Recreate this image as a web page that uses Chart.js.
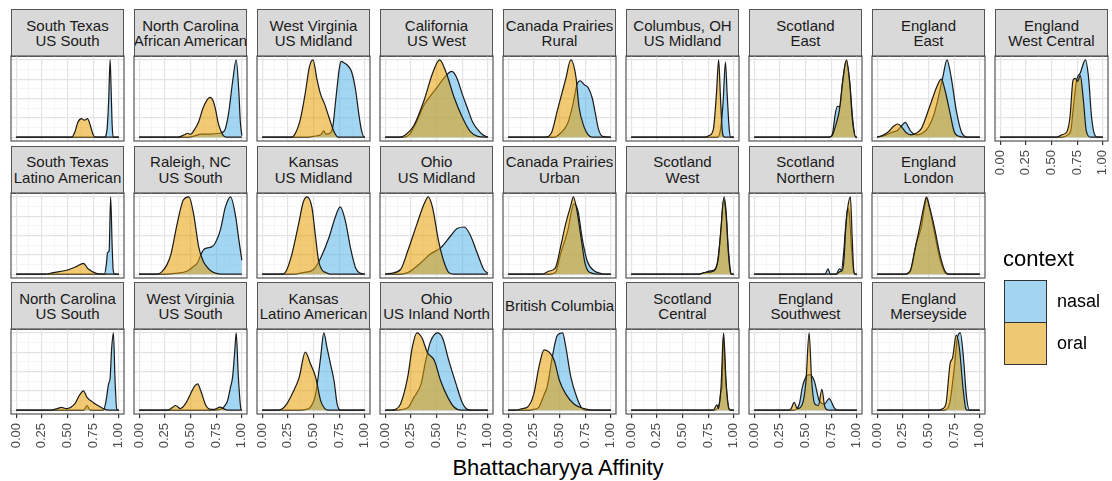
<!DOCTYPE html>
<html>
<head>
<meta charset="utf-8">
<script src="https://cdn.jsdelivr.net/npm/chart.js@4"></script>
<style>
body { margin:0; background:#fff; font-family:"Liberation Sans", Arial, sans-serif; }
#wrap { position:relative; width:1112px; height:481px; overflow:hidden; }
.strip { position:absolute; box-sizing:border-box; background:#d9d9d9; border:1px solid #555;
  display:flex; align-items:center; justify-content:center; overflow:hidden; }
.strip span { white-space:pre; text-align:center; font-size:15px; line-height:15.5px; color:#1a1a1a; }
canvas { position:absolute; }
.txt { position:absolute; white-space:nowrap; color:#000; }
.key { position:absolute; box-sizing:border-box; border:1px solid #333; }
</style>
</head>
<body>
<div id="wrap"></div>
<script>
// facets in column order (3 per column)
const facetNames = [
  "South Texas\nUS South", "South Texas\nLatino American", "North Carolina\nUS South",
  "North Carolina\nAfrican American", "Raleigh, NC\nUS South", "West Virginia\nUS South",
  "West Virginia\nUS Midland", "Kansas\nUS Midland", "Kansas\nLatino American",
  "California\nUS West", "Ohio\nUS Midland", "Ohio\nUS Inland North",
  "Canada Prairies\nRural", "Canada Prairies\nUrban", "British Columbia",
  "Columbus, OH\nUS Midland", "Scotland\nWest", "Scotland\nCentral",
  "Scotland\nEast", "Scotland\nNorthern", "England\nSouthwest",
  "England\nEast", "England\nLondon", "England\nMerseyside",
  "England\nWest Central"
];
const contextLevels = ["nasal", "oral"];
const xTickValues = [0, 0.25, 0.5, 0.75, 1];
const xTickLabels = ["0.00", "0.25", "0.50", "0.75", "1.00"];

// density (relative height), [affinity, density]
const nasal = [
  [[0,0],[0.86,0],[0.885,0.1],[0.9,0.45],[0.915,1.0],[0.925,0.6],[0.935,0.15],[0.945,0],[1,0]],
  [[0,0],[0.86,0],[0.88,0.15],[0.89,0.28],[0.905,0.3],[0.92,1.0],[0.935,0.35],[0.945,0.05],[0.96,0],[1,0]],
  [[0,0],[0.66,0],[0.69,0.06],[0.72,0],[0.85,0],[0.875,0.12],[0.9,0.34],[0.915,0.42],[0.93,0.8],[0.947,1.0],[0.963,0.38],[0.98,0.01],[1,0]],
  [[0,0],[0.48,0],[0.55,0.02],[0.6,0.04],[0.7,0.04],[0.78,0.05],[0.83,0.08],[0.87,0.3],[0.91,0.72],[0.945,1.0],[0.97,0.6],[0.985,0.2],[1,0.02]],
  [[0,0],[0.25,0],[0.35,0.01],[0.47,0.04],[0.53,0.1],[0.57,0.15],[0.6,0.25],[0.63,0.32],[0.665,0.34],[0.7,0.35],[0.73,0.38],[0.79,0.57],[0.84,0.87],[0.89,1.0],[0.94,0.74],[0.97,0.45],[1,0.18]],
  [[0,0],[0.72,0],[0.79,0.01],[0.83,0.05],[0.86,0.12],[0.89,0.3],[0.91,0.43],[0.93,0.75],[0.945,1.0],[0.965,0.45],[0.99,0.02],[1,0]],
  [[0,0],[0.45,0],[0.52,0.015],[0.57,0.03],[0.6,0.08],[0.62,0.04],[0.66,0.05],[0.69,0.15],[0.71,0.4],[0.73,0.65],[0.75,0.88],[0.77,0.98],[0.8,0.96],[0.83,0.93],[0.87,0.85],[0.91,0.61],[0.94,0.31],[0.97,0.07],[0.995,0],[1,0]],
  [[0,0],[0.3,0],[0.4,0.02],[0.5,0.06],[0.57,0.21],[0.65,0.47],[0.71,0.73],[0.76,0.87],[0.81,0.69],[0.86,0.34],[0.91,0.08],[0.96,0.01],[1,0]],
  [[0,0],[0.36,0],[0.43,0.01],[0.47,0.04],[0.52,0.2],[0.57,0.69],[0.6,1.0],[0.63,0.82],[0.665,0.6],[0.7,0.38],[0.73,0.08],[0.76,0],[1,0]],
  [[0,0],[0.18,0],[0.24,0.04],[0.3,0.18],[0.38,0.42],[0.45,0.55],[0.51,0.65],[0.57,0.76],[0.65,0.85],[0.7,0.76],[0.75,0.56],[0.8,0.38],[0.85,0.2],[0.9,0.1],[0.95,0.03],[1,0]],
  [[0,0],[0.1,0],[0.22,0.02],[0.35,0.15],[0.44,0.26],[0.54,0.34],[0.64,0.5],[0.7,0.59],[0.77,0.61],[0.83,0.5],[0.9,0.26],[0.96,0.06],[1,0.01]],
  [[0,0],[0.1,0],[0.22,0.03],[0.28,0.165],[0.35,0.34],[0.395,0.64],[0.44,0.88],[0.51,1.0],[0.56,0.93],[0.62,0.64],[0.69,0.34],[0.75,0.1],[0.8,0.01],[0.84,0],[1,0]],
  [[0,0],[0.45,0],[0.5,0.04],[0.58,0.18],[0.63,0.42],[0.67,0.68],[0.7,0.73],[0.74,0.68],[0.78,0.64],[0.82,0.5],[0.85,0.3],[0.88,0.1],[0.92,0.01],[1,0]],
  [[0,0],[0.4,0],[0.46,0.02],[0.51,0.26],[0.58,0.56],[0.64,0.91],[0.68,0.82],[0.72,0.47],[0.77,0.17],[0.84,0.04],[0.9,0.01],[0.93,0],[1,0]],
  [[0,0],[0.2,0],[0.25,0.01],[0.3,0.04],[0.33,0.13],[0.35,0.2],[0.38,0.3],[0.43,0.69],[0.48,0.97],[0.53,1.0],[0.56,0.83],[0.61,0.43],[0.67,0.16],[0.72,0.02],[0.76,0],[1,0]],
  [[0,0],[0.84,0],[0.87,0.1],[0.895,0.45],[0.918,0.97],[0.935,0.55],[0.955,0.1],[0.97,0],[1,0]],
  [[0,0],[0.66,0],[0.72,0.02],[0.76,0.04],[0.8,0.05],[0.84,0.15],[0.87,0.5],[0.905,1.0],[0.925,0.8],[0.945,0.35],[0.97,0.02],[0.98,0],[1,0]],
  [[0,0],[0.8,0],[0.84,0.02],[0.86,0.1],[0.875,0.25],[0.885,0.3],[0.897,0.95],[0.92,0.4],[0.95,0.02],[0.97,0],[1,0]],
  [[0,0],[0.73,0],[0.76,0.03],[0.79,0.3],[0.81,0.4],[0.835,0.39],[0.86,0.7],[0.895,0.98],[0.93,0.72],[0.96,0.22],[0.99,0],[1,0]],
  [[0,0],[0.69,0],[0.72,0.07],[0.74,0],[0.8,0],[0.83,0.07],[0.85,0.05],[0.87,0.25],[0.89,0.6],[0.91,0.85],[0.925,0.8],[0.95,0.3],[0.97,0.02],[0.98,0],[1,0]],
  [[0,0],[0.38,0],[0.44,0.08],[0.47,0.3],[0.505,0.43],[0.54,0.46],[0.585,0.38],[0.635,0.12],[0.685,0.08],[0.73,0.15],[0.78,0.03],[0.81,0],[1,0]],
  [[0,0],[0.07,0.02],[0.14,0.06],[0.2,0.09],[0.24,0.15],[0.275,0.19],[0.3,0.14],[0.33,0.07],[0.38,0.03],[0.44,0.05],[0.5,0.13],[0.55,0.28],[0.59,0.48],[0.64,0.78],[0.68,1.0],[0.72,0.78],[0.77,0.35],[0.82,0.07],[0.88,0],[1,0]],
  [[0,0],[0.28,0],[0.33,0.06],[0.38,0.39],[0.43,0.61],[0.457,0.83],[0.48,0.98],[0.51,0.85],[0.56,0.52],[0.61,0.2],[0.66,0.02],[0.69,0],[1,0]],
  [[0,0],[0.65,0],[0.7,0.06],[0.755,0.6],[0.78,0.93],[0.81,1.0],[0.84,0.68],[0.87,0.17],[0.9,0],[1,0]],
  [[0,0],[0.6,0],[0.66,0.03],[0.69,0.1],[0.71,0.35],[0.745,0.74],[0.78,0.83],[0.83,1.0],[0.86,0.78],[0.89,0.26],[0.92,0.03],[0.95,0],[1,0]]
];
const oral = [
  [[0,0],[0.54,0],[0.57,0.06],[0.6,0.19],[0.635,0.24],[0.665,0.22],[0.695,0.24],[0.72,0.16],[0.75,0.03],[0.77,0],[1,0]],
  [[0,0],[0.28,0],[0.36,0.02],[0.49,0.05],[0.59,0.1],[0.655,0.14],[0.7,0.07],[0.78,0.01],[0.85,0],[1,0]],
  [[0,0],[0.34,0],[0.4,0.02],[0.44,0.035],[0.49,0.02],[0.57,0.08],[0.62,0.2],[0.655,0.25],[0.69,0.165],[0.75,0.1],[0.82,0.04],[0.865,0.01],[0.9,0],[1,0]],
  [[0,0],[0.38,0],[0.44,0.03],[0.47,0.05],[0.5,0.035],[0.53,0.08],[0.58,0.2],[0.62,0.37],[0.66,0.48],[0.69,0.515],[0.72,0.47],[0.745,0.35],[0.77,0.18],[0.79,0.1],[0.82,0.02],[0.85,0],[1,0]],
  [[0,0],[0.18,0],[0.22,0.03],[0.27,0.12],[0.31,0.26],[0.37,0.65],[0.43,0.96],[0.485,1.0],[0.53,0.78],[0.58,0.35],[0.62,0.18],[0.65,0.11],[0.7,0.04],[0.75,0.01],[0.8,0],[1,0]],
  [[0,0],[0.28,0],[0.32,0.03],[0.355,0.06],[0.4,0.02],[0.45,0.08],[0.5,0.21],[0.54,0.31],[0.57,0.34],[0.6,0.25],[0.65,0.06],[0.7,0.01],[0.73,0.01],[0.79,0.04],[0.82,0.02],[0.86,0],[1,0]],
  [[0,0],[0.28,0],[0.31,0.02],[0.37,0.22],[0.42,0.57],[0.46,0.91],[0.495,1.0],[0.535,0.74],[0.57,0.55],[0.605,0.44],[0.65,0.26],[0.7,0.07],[0.74,0],[1,0]],
  [[0,0],[0.2,0],[0.23,0.03],[0.29,0.26],[0.355,0.65],[0.4,0.93],[0.437,1.0],[0.485,0.86],[0.52,0.48],[0.55,0.17],[0.58,0.06],[0.62,0.02],[0.66,0],[1,0]],
  [[0,0],[0.16,0],[0.2,0.02],[0.24,0.08],[0.3,0.23],[0.36,0.42],[0.42,0.75],[0.47,0.6],[0.52,0.43],[0.57,0.12],[0.61,0.02],[0.64,0],[1,0]],
  [[0,0],[0.14,0],[0.2,0.03],[0.28,0.15],[0.38,0.48],[0.46,0.82],[0.53,1.0],[0.59,0.85],[0.67,0.52],[0.75,0.26],[0.83,0.07],[0.9,0.01],[1,0]],
  [[0,0],[0.05,0.01],[0.15,0.06],[0.22,0.3],[0.31,0.65],[0.38,0.91],[0.42,1.0],[0.46,0.87],[0.52,0.43],[0.57,0.17],[0.62,0.02],[0.67,0],[1,0]],
  [[0,0],[0.06,0],[0.1,0.01],[0.15,0.08],[0.22,0.43],[0.265,0.82],[0.31,1.0],[0.36,0.93],[0.41,0.75],[0.48,0.64],[0.54,0.38],[0.61,0.165],[0.67,0.04],[0.74,0],[1,0]],
  [[0,0],[0.36,0],[0.42,0.05],[0.48,0.35],[0.53,0.6],[0.56,0.75],[0.61,1.0],[0.66,0.78],[0.69,0.39],[0.74,0.13],[0.78,0.03],[0.82,0],[1,0]],
  [[0,0],[0.33,0],[0.4,0.04],[0.46,0.08],[0.51,0.35],[0.56,0.65],[0.61,0.89],[0.635,1.0],[0.67,0.82],[0.71,0.47],[0.75,0.13],[0.82,0.01],[0.87,0],[1,0]],
  [[0,0],[0.07,0],[0.14,0.02],[0.19,0.04],[0.25,0.21],[0.3,0.56],[0.35,0.78],[0.4,0.75],[0.45,0.64],[0.5,0.38],[0.56,0.21],[0.64,0.08],[0.74,0.02],[0.84,0],[1,0]],
  [[0,0],[0.72,0],[0.76,0.02],[0.8,0.1],[0.83,0.55],[0.852,1.0],[0.87,0.5],[0.89,0.05],[0.91,0],[1,0]],
  [[0,0],[0.66,0],[0.71,0.02],[0.78,0.03],[0.82,0.06],[0.85,0.22],[0.875,0.6],[0.9,0.97],[0.925,0.75],[0.945,0.3],[0.97,0],[1,0]],
  [[0,0],[0.8,0],[0.82,0.04],[0.835,0.07],[0.85,0.02],[0.875,0.3],[0.9,1.0],[0.925,0.35],[0.955,0.01],[0.97,0],[1,0]],
  [[0,0],[0.73,0],[0.76,0.02],[0.8,0.18],[0.83,0.35],[0.86,0.7],[0.9,1.0],[0.93,0.7],[0.96,0.18],[0.99,0],[1,0]],
  [[0,0],[0.8,0],[0.83,0.03],[0.86,0.05],[0.875,0.2],[0.89,0.55],[0.91,0.85],[0.937,1.0],[0.955,0.45],[0.97,0.05],[0.985,0],[1,0]],
  [[0,0],[0.34,0],[0.36,0.02],[0.39,0.1],[0.42,0.02],[0.47,0.08],[0.505,0.38],[0.535,1.0],[0.56,0.38],[0.59,0.08],[0.625,0.06],[0.66,0.27],[0.685,0.06],[0.72,0],[1,0]],
  [[0,0],[0.05,0.02],[0.11,0.07],[0.16,0.14],[0.2,0.17],[0.24,0.13],[0.28,0.06],[0.33,0.03],[0.38,0.05],[0.43,0.11],[0.51,0.39],[0.58,0.65],[0.625,0.75],[0.66,0.61],[0.71,0.31],[0.75,0.07],[0.8,0.01],[0.85,0],[1,0]],
  [[0,0],[0.26,0],[0.32,0.04],[0.365,0.3],[0.415,0.61],[0.457,0.89],[0.48,1.0],[0.51,0.87],[0.56,0.59],[0.61,0.26],[0.66,0.04],[0.7,0],[1,0]],
  [[0,0],[0.6,0],[0.64,0.02],[0.67,0.08],[0.71,0.6],[0.735,0.68],[0.77,0.97],[0.8,0.81],[0.835,0.3],[0.865,0.01],[0.88,0],[1,0]],
  [[0,0],[0.55,0],[0.6,0.03],[0.65,0.07],[0.68,0.26],[0.71,0.74],[0.73,0.76],[0.755,0.72],[0.78,0.8],[0.81,0.48],[0.84,0.07],[0.88,0],[1,0]]
];

const fillColors = { nasal: 'rgba(86,180,233,0.55)', oral: 'rgba(230,159,0,0.55)' };
const keyColors = { nasal: '#a3d5f2', oral: '#efc873' };
const colStep = 123, rowStep = 136.5, panelW = 113, stripH = 47, plotH = 85, pad = 6, axisH = 40;
const xGrid = [0, 0.125, 0.25, 0.375, 0.5, 0.625, 0.75, 0.875, 1];
const yGrid = [0, 0.125, 0.25, 0.375, 0.5, 0.625, 0.75, 0.875, 1];
const isMajor = v => Math.abs(v * 4 - Math.round(v * 4)) < 1e-6;

const wrap = document.getElementById('wrap');

const panelBorder = {
  id: 'panelBorder',
  afterDraw(chart) {
    const { ctx, chartArea: a } = chart;
    ctx.save();
    ctx.strokeStyle = '#555';
    ctx.lineWidth = 1.2;
    ctx.strokeRect(a.left, a.top, a.right - a.left, a.bottom - a.top);
    ctx.restore();
  }
};

const toXY = arr => arr.map(p => ({ x: p[0], y: p[1] }));

facetNames.forEach((name, i) => {
  const col = Math.floor(i / 3), row = i % 3;
  const left = 11 + col * colStep;
  const stripTop = 9 + row * rowStep;
  const plotTop = stripTop + stripH;
  const hasAxis = row === 2 || i + 1 >= facetNames.length;

  const strip = document.createElement('div');
  strip.className = 'strip';
  strip.style.left = left + 'px';
  strip.style.top = stripTop + 'px';
  strip.style.width = panelW + 'px';
  strip.style.height = (stripH + 1) + 'px';
  const span = document.createElement('span');
  span.textContent = name;
  strip.appendChild(span);
  wrap.appendChild(strip);

  const cv = document.createElement('canvas');
  cv.width = panelW + 2 * pad;
  cv.height = plotH + pad + (hasAxis ? axisH : pad);
  cv.style.left = (left - pad) + 'px';
  cv.style.top = (plotTop - pad) + 'px';
  wrap.appendChild(cv);

  new Chart(cv, {
    type: 'line',
    data: {
      datasets: [
        { label: 'oral', data: toXY(oral[i]), backgroundColor: fillColors.oral, fill: 'origin' },
        { label: 'nasal', data: toXY(nasal[i]), backgroundColor: fillColors.nasal, fill: 'origin' }
      ]
    },
    options: {
      responsive: false,
      animation: false,
      events: [],
      layout: { padding: { left: pad, right: pad, top: pad, bottom: hasAxis ? 0 : pad } },
      elements: {
        line: { borderColor: '#1a1a1a', borderWidth: 1.2, cubicInterpolationMode: 'monotone' },
        point: { radius: 0 }
      },
      plugins: { legend: { display: false }, tooltip: { enabled: false } },
      scales: {
        x: {
          type: 'linear', min: -0.05, max: 1.05,
          afterBuildTicks: s => { s.ticks = xGrid.map(v => ({ value: v })); },
          afterFit: s => { s.height = hasAxis ? axisH : 0; s.paddingLeft = 0; s.paddingRight = 0; },
          border: { display: false },
          grid: {
            color: c => (c.tick && isMajor(c.tick.value)) ? '#e3e3e3' : '#f0f0f0',
            lineWidth: c => (c.tick && isMajor(c.tick.value)) ? 1.2 : 0.7,
            drawTicks: hasAxis, tickLength: 4, tickWidth: 1.2,
            tickColor: c => (c.tick && isMajor(c.tick.value)) ? '#333' : 'rgba(0,0,0,0)'
          },
          ticks: {
            display: hasAxis, autoSkip: false, minRotation: 90, maxRotation: 90, padding: 5,
            color: '#4d4d4d', font: { size: 13, family: '"Liberation Sans", Arial, sans-serif' },
            callback: v => {
              const k = xTickValues.findIndex(t => Math.abs(t - v) < 1e-6);
              return k < 0 ? '' : xTickLabels[k];
            }
          }
        },
        y: {
          min: -0.05, max: 1.05,
          afterBuildTicks: s => { s.ticks = yGrid.map(v => ({ value: v })); },
          afterFit: s => { s.width = 0; },
          border: { display: false },
          grid: {
            drawTicks: false,
            color: c => (c.tick && isMajor(c.tick.value)) ? '#e3e3e3' : '#f0f0f0',
            lineWidth: c => (c.tick && isMajor(c.tick.value)) ? 1.2 : 0.7
          },
          ticks: { display: false }
        }
      }
    },
    plugins: [panelBorder]
  });
});

function addText(txt, x, y, size, anchor) {
  const d = document.createElement('div');
  d.className = 'txt';
  d.textContent = txt;
  d.style.fontSize = size + 'px';
  d.style.lineHeight = size + 'px';
  d.style.left = x + 'px';
  d.style.top = (y - size / 2) + 'px';
  if (anchor === 'middle') d.style.transform = 'translateX(-50%)';
  wrap.appendChild(d);
}

addText('Bhattacharyya Affinity', 558, 468, 22, 'middle');
addText('context', 1003, 259, 22);
contextLevels.forEach((lvl, k) => {
  const key = document.createElement('div');
  key.className = 'key';
  key.style.left = '1004px';
  key.style.top = (280 + k * 42) + 'px';
  key.style.width = '43px';
  key.style.height = '43px';
  key.style.background = keyColors[lvl];
  wrap.appendChild(key);
  addText(lvl, 1057, 301 + k * 42, 18);
});
</script>
</body>
</html>
